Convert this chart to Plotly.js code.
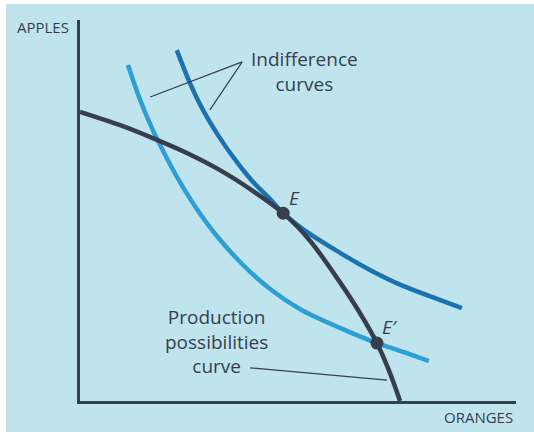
<!DOCTYPE html>
<html>
<head>
<meta charset="utf-8">
<script src="https://cdn.plot.ly/plotly-3.0.1.min.js"></script>
<style>
  html, body { margin: 0; padding: 0; background: #ffffff; }
  #chart { position: absolute; left: 6px; top: 4px; width: 528px; height: 428px; }
</style>
</head>
<body>
<div id="chart"></div>
<script>
// Production possibilities curve (oranges, apples)
const ppfX = [0.00, 0.92, 1.67, 2.45, 3.21, 3.97, 4.66, 5.28, 5.96, 6.42, 6.81, 7.11, 7.34];
const ppfY = [7.59, 7.24, 6.90, 6.51, 6.06, 5.51, 4.93, 4.20, 3.12, 2.31, 1.52, 0.73, 0.00];

// Higher indifference curve (dark blue), tangent at E
const icHighX = [2.22, 2.52, 2.82, 3.21, 3.60, 3.97, 4.36, 4.66, 5.11, 5.89, 6.65, 7.41, 8.19, 8.76];
const icHighY = [9.21, 8.35, 7.64, 6.90, 6.27, 5.75, 5.30, 4.93, 4.51, 3.94, 3.44, 3.02, 2.68, 2.44];

// Lower indifference curve (light blue), through E'
const icLowX = [1.10, 1.38, 1.67, 1.99, 2.29, 2.68, 3.14, 3.74, 4.36, 5.05, 5.96, 6.81, 7.41, 8.00];
const icLowY = [8.82, 7.90, 7.11, 6.38, 5.75, 5.04, 4.33, 3.57, 2.94, 2.41, 1.92, 1.52, 1.29, 1.05];

// Points
const pointNames = ["E", "E′"];
const pointX = [4.66, 6.81];
const pointY = [4.93, 1.52];

// Labels
const yAxisLabel = "APPLES";
const xAxisLabel = "ORANGES";
const icLabel = "Indifference<br>curves";
const ppfLabel = "Production<br>possibilities<br>curve";

const dark = "#363e4f";
const blueDark = "#1a73ae";
const blueLight = "#2e9fd4";
const bg = "#c0e4ee";
const font = "Open Sans, Noto Sans, sans-serif";

const traces = [
  { x: icLowX, y: icLowY, mode: "lines", line: { color: blueLight, width: 4.5, shape: "spline", smoothing: 0.9 }, hoverinfo: "skip" },
  { x: icHighX, y: icHighY, mode: "lines", line: { color: blueDark, width: 4.5, shape: "spline", smoothing: 0.9 }, hoverinfo: "skip" },
  { x: ppfX, y: ppfY, mode: "lines", line: { color: dark, width: 4.5, shape: "spline", smoothing: 0.9 }, hoverinfo: "skip" },
  { x: pointX, y: pointY, mode: "markers", marker: { color: dark, size: 13 }, hoverinfo: "skip" }
];

const annotations = [
  { text: yAxisLabel, x: -0.085, y: 0.982, xref: "paper", yref: "paper", xanchor: "center", yanchor: "middle", showarrow: false, font: { size: 15, color: dark } },
  { text: xAxisLabel, x: 0.915, y: -0.042, xref: "paper", yref: "paper", xanchor: "center", yanchor: "middle", showarrow: false, font: { size: 15, color: dark } },
  { text: "<i>" + pointNames[0] + "</i>", x: pointX[0] + 0.25, y: pointY[0] + 0.40, xref: "x", yref: "y", showarrow: false, font: { size: 19, color: dark } },
  { text: "<i>" + pointNames[1] + "</i>", x: pointX[1] + 0.30, y: pointY[1] + 0.42, xref: "x", yref: "y", showarrow: false, font: { size: 19, color: dark } },
  { text: icLabel, x: 5.14, y: 8.66, xref: "x", yref: "y", xanchor: "center", yanchor: "middle", showarrow: false, font: { size: 19, color: dark } },
  { text: ppfLabel, x: 3.12, y: 1.57, xref: "x", yref: "y", xanchor: "center", yanchor: "middle", showarrow: false, font: { size: 19, color: dark } }
];

const layout = {
  width: 528, height: 428,
  margin: { l: 74, r: 18, t: 16, b: 31 },
  paper_bgcolor: bg, plot_bgcolor: bg,
  showlegend: false,
  font: { family: font, color: dark },
  xaxis: { range: [0, 10], showgrid: false, zeroline: false, showticklabels: false, ticks: "",
           showline: true, linecolor: dark, linewidth: 3, fixedrange: true },
  yaxis: { range: [0, 10], showgrid: false, zeroline: false, showticklabels: false, ticks: "",
           showline: true, linecolor: dark, linewidth: 3, fixedrange: true },
  shapes: [
    { type: "line", x0: 3.72, y0: 8.90, x1: 1.61, y1: 7.98, line: { color: dark, width: 1.2 } },
    { type: "line", x0: 3.72, y0: 8.90, x1: 2.98, y1: 7.64, line: { color: dark, width: 1.2 } },
    { type: "line", x0: 3.90, y0: 0.87, x1: 7.04, y1: 0.55, line: { color: dark, width: 1.2 } }
  ],
  annotations: annotations
};

Plotly.newPlot("chart", traces, layout, { displayModeBar: false, staticPlot: true });
</script>
</body>
</html>
